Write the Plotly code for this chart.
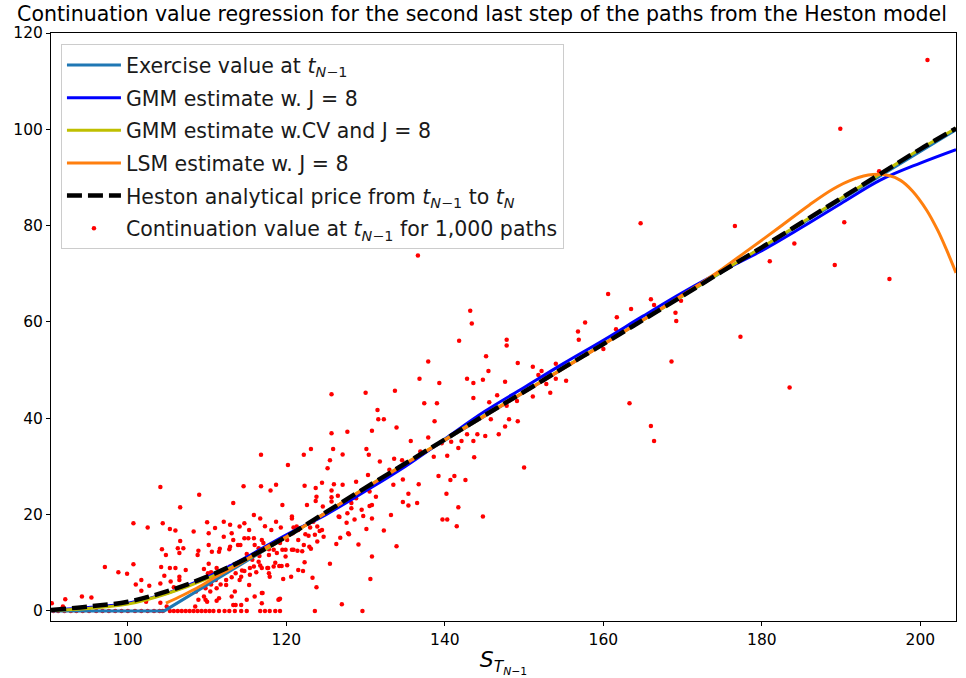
import plotly.graph_objects as go

# ---- Continuation values of the simulated paths at t_{N-1} ----
cont_S = [
    90.6, 91.2, 92.0, 92.8, 93.5, 94.3, 95.1, 96.0, 96.8, 97.6, 98.4, 99.2, 100.0, 100.9,
    101.7, 102.5, 103.3, 104.0, 104.4, 105.3, 105.8, 106.3, 106.8, 107.3, 107.8, 108.3,
    108.8, 109.3, 109.8, 110.3, 110.8, 111.5, 112.2, 112.8, 113.5, 114.3, 115.0, 116.7,
    117.3, 117.9, 118.6, 119.2, 123.6, 129.6,
    90.4, 91.8, 92.1, 94.2, 95.4, 97.1, 98.8, 99.9, 100.7, 100.7, 101.0, 101.7, 101.7,
    102.5, 102.7, 102.4, 104.1, 104.4, 105.3, 106.0, 106.6, 104.3, 104.8, 106.6, 106.3,
    107.0, 106.5, 104.2, 104.6, 105.3, 106.0, 107.3, 106.5, 106.5, 105.4, 104.1, 105.8,
    104.9, 104.1, 108.3, 108.9, 108.8, 109.0, 102.3, 110.2, 110.1, 110.0, 111.0, 112.1,
    112.9, 113.3, 114.6, 114.1, 114.7, 115.3, 115.9, 116.8, 116.8, 118.0, 118.7, 119.5,
    120.2, 120.7, 122.2, 123.1, 122.3, 123.7, 122.6, 125.7, 127.7, 127.1, 125.9, 125.5,
    125.2, 126.0, 127.1, 124.5, 123.8, 126.5, 125.7, 125.7, 124.6, 126.7, 127.7, 127.8,
    125.5, 126.3, 121.3, 121.5, 122.2, 122.9, 122.8, 123.6, 124.7, 122.3, 123.3, 123.8,
    127.0, 119.1, 117.0, 116.2, 116.7, 117.7, 115.7, 115.0, 115.4, 116.6, 116.0, 117.1,
    117.8, 118.8, 119.5, 120.1, 120.8, 112.9, 113.6, 114.1, 114.4, 113.9, 114.7, 112.9,
    112.1, 111.6, 111.1, 110.5, 111.7, 112.4, 113.5, 113.6, 111.2, 108.6, 108.9, 109.6,
    110.0, 115.0, 116.0, 117.8, 118.4, 119.6, 120.6, 121.5, 122.1, 120.9, 121.4, 119.9,
    119.4, 115.3, 116.7, 117.3, 118.1, 118.7, 119.3, 110.2, 113.1, 113.3, 110.2, 110.6,
    111.5, 112.8, 114.2, 115.2, 115.9, 116.9, 116.5, 117.8, 118.4, 119.2, 119.9, 109.6,
    110.5, 111.2, 112.1, 112.4, 113.1, 114.3, 114.7, 115.4, 115.9, 116.5, 116.9, 117.6,
    117.9, 118.6, 119.1, 120.1, 109.8, 110.4, 111.2, 111.5, 109.8, 113.1, 113.3, 114.3,
    116.9, 119.0, 108.5, 116.9,
    131.5, 131.6, 130.8, 130.1, 130.4, 131.8, 130.3, 128.8, 125.7, 123.7, 128.0, 128.8,
    130.7, 130.5, 131.3, 126.6, 128.2, 128.2, 128.6, 129.5, 129.7, 130.5, 130.8, 127.6,
    120.7, 120.9, 121.5, 123.0, 123.9, 124.2, 124.5, 123.4, 130.1, 122.4, 123.9, 126.8,
    127.9, 120.7, 122.0, 123.1, 129.1, 130.8, 130.6, 119.2,
    136.6, 143.2, 143.4, 141.8, 137.9, 136.8, 142.8, 143.6, 139.3, 133.7, 137.4, 139.0,
    143.6, 132.3, 133.9, 138.7, 135.7, 137.9, 136.9, 133.6, 134.6, 133.0, 138.6, 139.6,
    140.3, 140.8, 141.7, 142.1, 142.8, 143.6, 144.1, 143.7, 133.5, 134.7, 136.7, 139.2,
    140.7, 141.2, 142.6, 135.4, 134.7, 135.4, 136.5, 140.2, 141.7, 133.2, 130.8, 132.3,
    139.7, 140.3, 141.5, 133.9,
    160.6, 161.7, 161.6, 157.7, 156.8, 156.9, 147.8, 147.8, 145.2, 149.2, 151.1, 152.2,
    151.8, 145.5, 144.8, 147.6, 152.8, 154.0, 155.3, 154.0, 160.0, 163.3, 153.3, 151.1,
    149.1, 146.6, 145.6, 147.8, 149.2, 148.1, 147.6, 145.8, 145.1, 146.8, 150.0,
    144.8, 130.0, 125.7,
    200.9, 189.9, 190.4, 189.2, 196.1, 194.8, 176.6, 164.7, 184.1, 181.0, 177.3, 183.5,
    168.6, 166.0, 166.4, 163.5, 169.8, 169.1, 169.2, 166.0, 166.4,
]
cont_V = [
    0, 0, 0, 0, 0, 0, 0, 0, 0, 0, 0, 0, 0, 0,
    0, 0, 0, 0, 0, 0, 0, 0, 0, 0, 0, 0,
    0, 0, 0, 0, 0, 0, 0, 0, 0, 0, 0, 0,
    0, 0, 0, 0, 0, 0,
    1.6, 0.9, 2.4, 3.0, 2.8, 9.1, 8.0, 7.7, 18.2, 9.7, 5.5, 6.4, 4.2,
    17.3, 5.2, 2.8, 25.7, 18.2, 17.0, 16.7, 21.5, 12.8, 11.6, 14.5, 13.0,
    13.0, 12.0, 9.1, 7.3, 8.9, 8.9, 8.5, 7.1, 6.4, 6.1, 5.7, 4.9,
    0.9, 1.7, 16.5, 12.5, 11.6, 24.1, 1.9, 9.8, 7.8, 18.4, 17.2, 18.5,
    17.9, 22.4, 25.9, 17.5, 18.2, 16.8, 19.9, 32.4, 25.9, 25.0, 26.2, 22.0,
    30.3, 19.6, 32.4, 33.6, 26.0, 25.5, 22.0, 36.9, 37.2, 32.5, 33.6, 31.3,
    29.6, 26.3, 26.2, 26.6, 23.7, 23.9, 23.6, 22.7, 21.7, 19.5, 20.3, 16.1,
    9.8, 13.9, 17.5, 14.7, 13.7, 13.3, 15.6, 15.8, 15.4, 10.1, 6.9, 4.9,
    1.4, 2.4, 3.7, 8.0, 9.4, 8.9, 10.6, 11.8, 8.9, 11.4, 13.7, 14.1,
    12.8, 12.0, 12.7, 14.7, 16.1, 9.2, 7.8, 6.4, 8.4, 13.7, 15.1, 13.3,
    15.4, 12.9, 6.4, 5.5, 5.5, 5.4, 4.0, 1.2, 2.1, 4.0, 2.3, 3.0,
    1.9, 2.3, 3.0, 7.8, 9.2, 6.6, 7.1, 8.5, 8.3, 12.7, 12.5, 11.3,
    9.3, 5.4, 19.2, 17.6, 16.8, 18.5, 17.3, 16.1, 16.1, 14.7, 13.7, 12.3,
    12.3, 12.8, 13.7, 15.1, 15.1, 14.7, 13.0, 11.6, 12.7, 14.1, 12.7, 8.7,
    8.0, 8.9, 8.2, 6.4, 7.0, 7.1, 8.3, 7.5, 9.2, 10.2, 8.9, 8.9,
    7.1, 10.0, 9.3, 9.5, 4.7, 4.0, 4.7, 2.6, 2.3, 3.0, 1.2, 1.2,
    3.7, 2.3, 0.9, 1.6,
    41.7, 39.8, 37.4, 33.6, 32.4, 31.0, 28.2, 26.8, 25.0, 22.8, 23.2, 23.4,
    26.2, 24.8, 23.7, 19.6, 22.4, 21.3, 19.0, 21.0, 19.7, 21.8, 19.2, 18.3,
    19.2, 17.3, 16.8, 17.3, 17.5, 16.6, 16.8, 18.5, 17.0, 15.9, 14.4, 15.2,
    15.9, 12.7, 12.4, 12.9, 13.8, 11.3, 6.6, 2.5,
    73.8, 62.3, 59.7, 56.1, 51.8, 48.2, 48.2, 47.3, 47.3, 45.7, 43.1, 43.1,
    44.2, 39.8, 38.1, 39.4, 35.3, 36.0, 33.1, 31.6, 31.3, 29.3, 32.0, 34.8,
    32.2, 35.1, 33.8, 35.3, 36.7, 35.3, 36.7, 31.9, 26.2, 27.3, 26.3, 28.0,
    27.2, 28.0, 27.2, 24.3, 22.6, 21.9, 22.4, 24.3, 21.5, 19.9, 22.0, 16.7,
    19.0, 19.0, 17.6, 13.4,
    65.8, 61.0, 58.5, 59.9, 58.0, 56.3, 56.3, 55.1, 52.9, 51.5, 50.7, 49.8,
    49.0, 49.8, 48.0, 47.6, 47.1, 48.2, 47.8, 51.3, 54.4, 43.1, 45.3, 44.5,
    43.6, 44.8, 43.3, 42.6, 39.4, 39.8, 38.3, 39.8, 36.3, 36.7, 29.8,
    19.6, 45.3, 45.0,
    114.4, 100.1, 80.7, 71.8, 68.9, 91.3, 79.9, 80.5, 76.3, 72.6, 56.9, 46.4,
    51.8, 64.7, 63.5, 62.7, 64.4, 61.9, 60.2, 38.4, 35.3,
]

# ---- Regression curves on a grid of spot prices ----
grid_S = [90.3, 95, 100, 105, 110, 115, 120, 125, 130, 135, 140, 145, 150, 155,
          160, 165, 170, 175, 180, 185, 190, 195, 200, 204.5]
heston_V = [0.2, 0.9, 1.9, 4.1, 7.1, 10.9, 15.4, 20.5, 25.6, 30.6, 35.6, 40.6, 45.5,
            50.5, 55.4, 60.4, 65.4, 70.5, 75.5, 80.6, 85.7, 90.8, 95.9, 100.2]
gmm_cv_V = [0.1, 0.5, 1.4, 3.6, 6.7, 10.7, 15.3, 20.4, 25.6, 30.6, 35.6, 40.6, 45.5,
            50.5, 55.4, 60.4, 65.4, 70.5, 75.5, 80.6, 85.7, 90.8, 95.9, 100.2]
gmm_V = [0.2, 0.7, 1.6, 3.7, 7.0, 11.2, 15.8, 20.0, 24.9, 30.0, 35.7, 41.4, 46.4,
         51.4, 56.2, 61.2, 66.1, 70.6, 74.8, 79.6, 84.6, 89.5, 93.0, 95.8]

lsm_S = [104.8, 107, 109, 111, 114, 117, 120, 125, 130, 140, 150, 160, 165, 168,
         172, 175, 178, 182, 186, 189, 191.5, 194, 196, 197.5, 199, 200.8,
         202.2, 203.3, 204.5]
lsm_V = [1.6, 3.3, 5.0, 7.0, 9.7, 12.8, 15.4, 20.4, 25.5, 35.5, 45.4, 55.3, 60.4,
         63.5, 67.7, 71.0, 74.6, 79.4, 84.3, 87.6, 89.6, 90.6, 90.4, 89.4, 87.2,
         83.2, 79.0, 75.0, 70.2]

exercise_S = [90.3, 104.6, 204.5]
exercise_V = [0, 0, 99.9]

sub_t = "<i>t</i><sub><i>N</i>\u22121</sub>"
FONT = "DejaVu Sans"

fig = go.Figure()

fig.add_trace(go.Scatter(
    x=cont_S, y=cont_V, mode="markers",
    marker=dict(color="#ff0000", size=4.5, line=dict(width=0)),
    name=f"Continuation value at {sub_t} for 1,000 paths",
    legendrank=6, legendgroup="paths",
))
fig.add_trace(go.Scatter(
    x=exercise_S, y=exercise_V, mode="lines",
    line=dict(color="#1f77b4", width=3),
    name=f"Exercise value at {sub_t}", legendrank=1, legendgroup="exercise",
))
fig.add_trace(go.Scatter(
    x=grid_S, y=gmm_V, mode="lines", line_shape="spline",
    line=dict(color="#0000ff", width=3),
    name="GMM estimate w. J = 8", legendrank=2, legendgroup="gmm",
))
fig.add_trace(go.Scatter(
    x=grid_S, y=gmm_cv_V, mode="lines", line_shape="spline",
    line=dict(color="#bfbf00", width=3),
    name="GMM estimate w.CV and J = 8", legendrank=3, legendgroup="gmmcv",
))
fig.add_trace(go.Scatter(
    x=lsm_S, y=lsm_V, mode="lines", line_shape="spline",
    line=dict(color="#ff7f0e", width=3),
    name="LSM estimate w. J = 8", legendrank=4, legendgroup="lsm",
))
fig.add_trace(go.Scatter(
    x=grid_S, y=heston_V, mode="lines", line_shape="spline",
    line=dict(color="#000000", width=4.5, dash="15px,6px"),
    name=f"Heston analytical price from {sub_t} to <i>t</i><sub><i>N</i></sub>",
    legendrank=5, legendgroup="heston",
))

axis_common = dict(
    showline=True, mirror=True, linecolor="#000000", linewidth=1,
    ticks="outside", ticklen=4, tickcolor="#000000",
    showgrid=False, zeroline=False, automargin=False,
    tickfont=dict(family=FONT, size=15.5, color="#000000"),
)

fig.update_layout(
    width=966, height=678,
    margin=dict(l=51, r=10, t=33, b=57),
    paper_bgcolor="white", plot_bgcolor="white",
    font=dict(family=FONT, color="#000000"),
    title=dict(
        text="Continuation value regression for the second last step of the paths from the Heston model",
        x=482 / 966, xanchor="center", xref="container",
        y=1 - 14 / 678, yanchor="middle", yref="container",
        font=dict(family=FONT, size=20.5, color="#000000"),
    ),
    xaxis=dict(
        range=[90.3, 204.5], tickvals=[100, 120, 140, 160, 180, 200],
        title=dict(text="<i>S</i><sub><i>T</i><sub><i>N</i>\u22121</sub></sub>",
                   font=dict(family=FONT, size=22), standoff=8),
        **axis_common,
    ),
    yaxis=dict(
        range=[-2.1, 120], tickvals=[0, 20, 40, 60, 80, 100, 120],
        **axis_common,
    ),
    legend=dict(
        x=0.011, y=0.981, xanchor="left", yanchor="top",
        bgcolor="rgba(255,255,255,0.8)", bordercolor="#cccccc", borderwidth=1,
        font=dict(family=FONT, size=20.5, color="#1a1a1a"),
        itemwidth=54, tracegroupgap=3,
    ),
    showlegend=True,
)

fig.write_html("out.html")
